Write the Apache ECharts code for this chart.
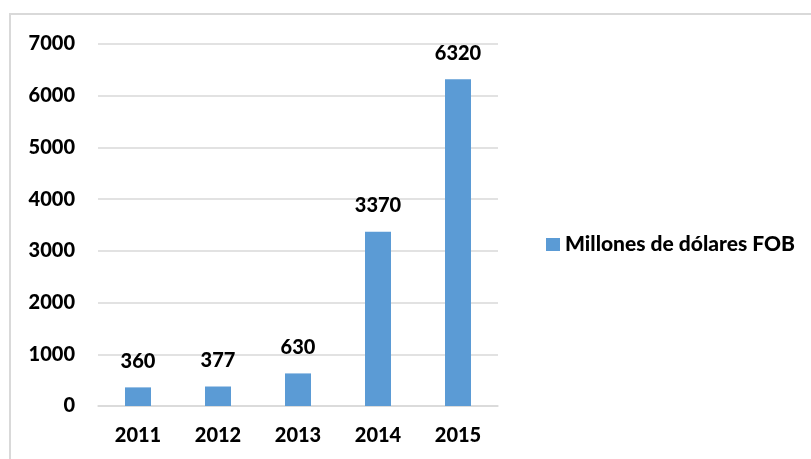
<!DOCTYPE html>
<html>
<head>
<meta charset="utf-8">
<script src="https://cdn.jsdelivr.net/npm/echarts@6/dist/echarts.min.js"></script>
<style>
  html, body { margin: 0; padding: 0; background: #ffffff; }
  #chart { width: 811px; height: 459px; }
</style>
</head>
<body>
<div id="chart"></div>
<script>
// Exportaciones anuales, millones de dólares FOB
const years = ['2011', '2012', '2013', '2014', '2015'];
const values = [360, 377, 630, 3370, 6320];
const seriesName = 'Millones de dólares FOB';

const font = 'Lato, "Open Sans", sans-serif';
const chart = echarts.init(document.getElementById('chart'));

chart.setOption({
  backgroundColor: '#ffffff',
  animation: false,
  textStyle: { fontFamily: font },
  graphic: [
    {
      type: 'polyline',
      shape: { points: [[10, 459], [10, 14], [811, 14]] },
      style: { stroke: '#d9d9d9', lineWidth: 2, fill: null }
    }
  ],
  grid: { left: 98, right: 313, top: 44, bottom: 53 },
  legend: {
    data: [seriesName],
    orient: 'vertical',
    left: 541,
    top: 229,
    itemWidth: 14,
    itemHeight: 13,
    itemGap: 8,
    icon: 'rect',
    textStyle: { fontFamily: font, fontSize: 21, fontWeight: 900, color: '#000000' }
  },
  xAxis: {
    type: 'category',
    data: years,
    axisLine: { show: true, lineStyle: { color: '#d9d9d9', width: 1.5 } },
    axisTick: { show: false },
    axisLabel: { color: '#000000', fontSize: 20, fontWeight: 900, fontFamily: font, margin: 20 }
  },
  yAxis: {
    type: 'value',
    min: 0,
    max: 7000,
    interval: 1000,
    axisLine: { show: false },
    axisTick: { show: false },
    splitLine: { lineStyle: { color: '#d9d9d9', width: 1.5 } },
    axisLabel: {
      color: '#000000', fontSize: 20, fontWeight: 900, fontFamily: font, margin: 23,
      formatter: (v) => String(v)
    }
  },
  series: [
    {
      name: seriesName,
      type: 'bar',
      data: values,
      barWidth: 26,
      itemStyle: { color: '#5b9bd5' },
      label: {
        show: true,
        position: 'top',
        distance: 16,
        color: '#000000',
        fontSize: 20,
        fontWeight: 900,
        fontFamily: font
      }
    }
  ]
});
</script>
</body>
</html>
